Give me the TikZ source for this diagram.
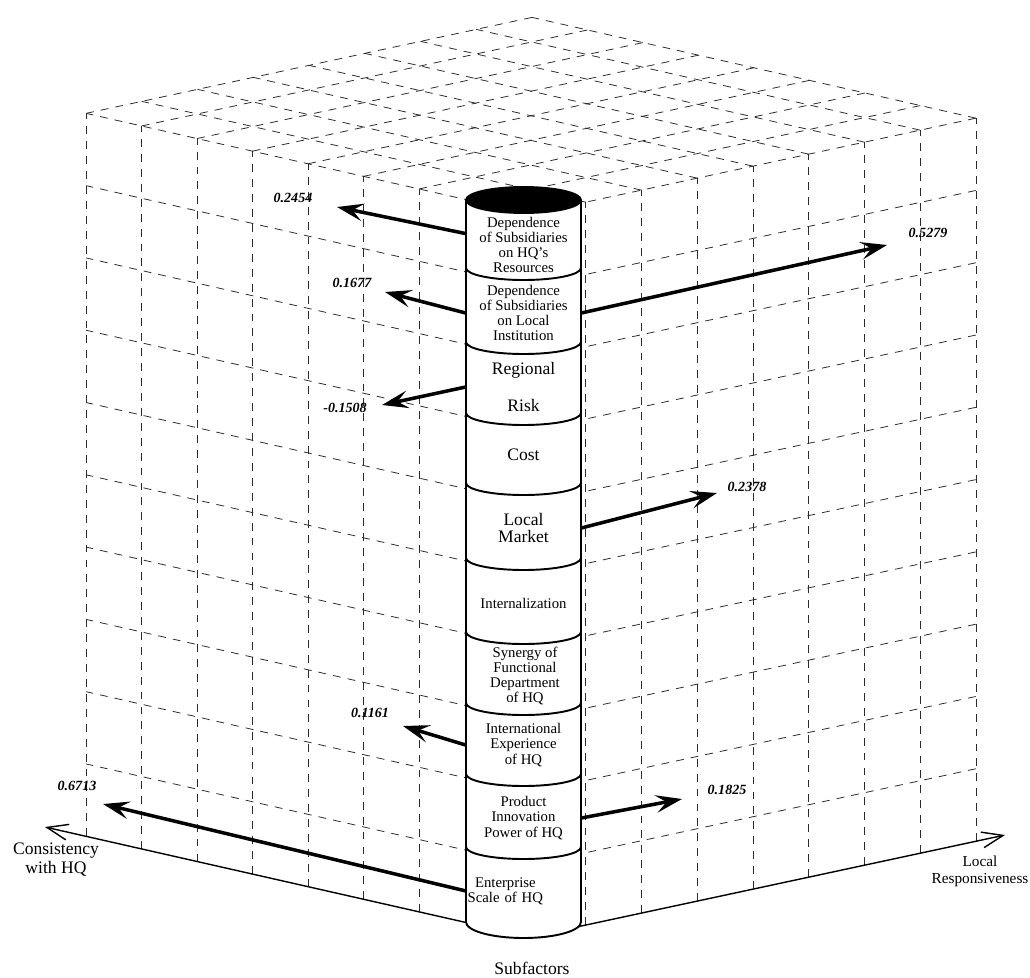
\documentclass[tikz,border=0pt]{standalone}
\usepackage{fontspec}
\setmainfont{Liberation Serif}
\usepackage{tikz}
\usetikzlibrary{arrows.meta,calc}
\definecolor{cgrid}{HTML}{2B2B2B}
\definecolor{cline}{HTML}{000000}
\tikzset{cgridline/.style={draw=cgrid, line width=0.45pt, dash pattern=on 4.5pt off 4pt}}
\tikzset{caxis/.style={draw=cline, line width=0.8pt, -{Straight Barb[length=12pt,width=9pt]}}}
\tikzset{cside/.style={draw=cline, line width=1.1pt}}
\tikzset{cseg/.style={inner sep=0pt, minimum width=2.3cm, align=center, font=\fontsize{8.4}{8.7}\selectfont}}
\tikzset{cbig/.style={cseg, font=\fontsize{10}{10}\selectfont}}
\tikzset{cedge/.style={draw=cline, line width=2pt, -{Stealth[length=15pt,width=10pt,inset=6pt]}}}
\tikzset{cval/.style={inner sep=0pt, font=\fontsize{8}{9}\selectfont\bfseries\itshape}}
\tikzset{caxlabel/.style={align=center, inner sep=0pt, font=\fontsize{10}{10.8}\selectfont}}

\begin{document}
\begin{tikzpicture}[x=0.02cm, y=-0.02cm]
  \useasboundingbox (0,0) rectangle (1030,977);

  % grid cube: x = consistency, y = local responsiveness, z = subfactors
  \begin{scope}[shift={(530,937)}, x={(-1.11cm,0.252cm)}, y={(1.115cm,0.24cm)}, z={(0cm,1.446cm)}]
    \foreach \i in {1,...,8} {
      \draw[cgridline] (\i,0,0) -- (\i,0,10);
      \draw[cgridline] (0,\i,0) -- (0,\i,10);
    }
    \foreach \k in {1,...,9} {
      \draw[cgridline] (0,0,\k) -- (8,0,\k);
      \draw[cgridline] (0,0,\k) -- (0,8,\k);
    }
    \foreach \i in {0,...,8} {
      \draw[cgridline] (\i,0,10) -- (\i,8,10);
      \draw[cgridline] (0,\i,10) -- (8,\i,10);
    }
  \end{scope}

  \coordinate (base) at (530,937);
  \coordinate (xtip) at (45,827);
  \coordinate (ytip) at (1005,835);
  \draw[caxis] (base) -- (xtip);
  \draw[caxis] (base) -- (ytip);

  % cylinder
  \draw[cside, fill=white] (466,200) -- (466,922) arc[start angle=180, end angle=360, x radius=1.15cm, y radius=0.32cm] -- (581,200);
  \foreach \y in {268,342,413,483,558,632,703,774,847}
    \draw[cside] (466,\y) arc[start angle=180, end angle=360, x radius=1.15cm, y radius=0.24cm];
  \draw[cside, fill=black] (523.5,200) ellipse[x radius=1.15cm, y radius=0.26cm];

  \node[cseg] (hqres) at (523.5,245) {Dependence\\of Subsidiaries\\on HQ's\\Resources};
  \node[cseg] (locinst) at (523.5,313) {Dependence\\of Subsidiaries\\on Local\\Institution};
  \node[cbig] (risk) at (523.5,387) {Regional\\[11pt]Risk};
  \node[cbig] (cost) at (523.5,455) {Cost};
  \node[cbig] (market) at (523.5,528) {Local\\Market};
  \node[cseg] (intern) at (523.5,603) {Internalization};
  \node[cseg] (synergy) at (525,676) {Synergy of\\Functional\\Department\\of HQ};
  \node[cseg] (intlexp) at (523.5,745) {International\\Experience\\of HQ};
  \node[cseg] (innov) at (523.5,818) {Product\\Innovation\\Power of HQ};
  \node[cseg, minimum width=0pt, text width=1.56cm, anchor=west] (scale) at (466,891) {Enterprise\\Scale of HQ};

  % weights
  \coordinate (thqres) at (337,207);
  \coordinate (tinstr) at (887,245);
  \coordinate (tinstl) at (385,292);
  \coordinate (trisk) at (382,405);
  \coordinate (tmarket) at (717,493);
  \coordinate (tintl) at (403,726);
  \coordinate (tinnov) at (682,799);
  \coordinate (tscale) at (103,804);

  \node[cval] (vhqres) at (293,198) {0.2454};
  \node[cval] (vinstr) at (928,233) {0.5279};
  \node[cval] (vinstl) at (352,283) {0.1677};
  \node[cval] (vrisk) at (345,408) {-0.1508};
  \node[cval] (vmarket) at (747,487) {0.2378};
  \node[cval] (vintl) at (370,713) {0.1161};
  \node[cval] (vinnov) at (727,790) {0.1825};
  \node[cval] (vscale) at (77,786) {0.6713};

  \draw[cedge] ([yshift=6.5pt]hqres.west) -- (thqres);
  \draw[cedge] (locinst.east) -- (tinstr);
  \draw[cedge] (locinst.west) -- (tinstl);
  \draw[cedge] (risk.west) -- (trisk);
  \draw[cedge] (market.east) -- (tmarket);
  \draw[cedge] (intlexp.west) -- (tintl);
  \draw[cedge] (innov.east) -- (tinnov);
  \draw[cedge] (scale.west) -- (tscale);

  \node[caxlabel] (xlabel) at (56,860) {Consistency\\with HQ};
  \node[caxlabel, font=\fontsize{8.7}{9.6}\selectfont] (ylabel) at (980,871) {Local\\Responsiveness};
  \node[caxlabel] (zlabel) at (532,968) {Subfactors};
\end{tikzpicture}
\end{document}
